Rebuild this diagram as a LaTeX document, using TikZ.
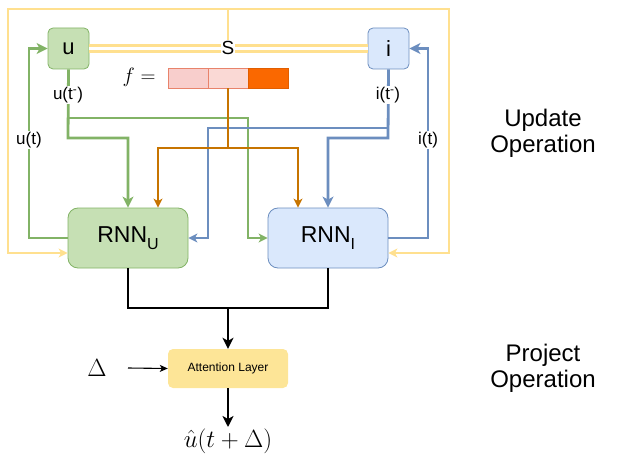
\documentclass[tikz,border=0pt]{standalone}
\usepackage{fontspec}
\setmainfont{Liberation Sans}
\usetikzlibrary{arrows.meta,calc}
\definecolor{gfill}{HTML}{C6E0B4}
\definecolor{gline}{HTML}{82B366}
\definecolor{bfill}{HTML}{DAE8FC}
\definecolor{bline}{HTML}{6C8EBF}
\definecolor{yline}{HTML}{FFE08F}
\definecolor{afill}{HTML}{FDE597}
\definecolor{oline}{HTML}{C77400}
\definecolor{pfilla}{HTML}{F8CECC}
\definecolor{pfillb}{HTML}{FAD9D5}
\definecolor{pline}{HTML}{E8836B}
\definecolor{ofill}{HTML}{FA6800}
\tikzset{
  tipbig/.style={-{Stealth[length=11pt,width=11pt,inset=3pt]}},
  tipsmall/.style={-{Stealth[length=9pt,width=9pt,inset=2.5pt]}},
  tipthin/.style={-{Stealth[length=8pt,width=7pt,inset=2pt]}},
  tipboth/.style={{Stealth[length=9pt,width=9pt,inset=2.5pt]}-{Stealth[length=9pt,width=9pt,inset=2.5pt]}},
  gnode/.style={draw=gline,fill=gfill,rounded corners=5pt,line width=0.8pt},
  bnode/.style={draw=bline,fill=bfill,rounded corners=5pt,line width=0.8pt},
  small/.style={minimum width=41pt,minimum height=41pt,inner sep=0pt,font=\fontsize{22}{22}\selectfont},
  rnn/.style={minimum width=120pt,minimum height=60pt,inner sep=0pt,rounded corners=10pt,font=\fontsize{23}{23}\selectfont},
  cell/.style={draw=pline,minimum width=40pt,minimum height=20pt,inner sep=0pt,line width=0.8pt},
  lbl/.style={fill=white,inner sep=1pt,font=\fontsize{17}{17}\selectfont},
  thickg/.style={draw=gline,line width=2.8pt},
  thickb/.style={draw=bline,line width=2.8pt},
  thing/.style={draw=gline,line width=1.8pt},
  thinb/.style={draw=bline,line width=1.8pt},
  oline/.style={draw=oline,line width=1.8pt},
  yl/.style={draw=yline,line width=2pt},
  bl/.style={draw=black,line width=2pt},
  big/.style={font=\fontsize{24}{24}\selectfont}
}
\newcommand{\subU}[1]{\raisebox{-0.3em}{\fontsize{16}{16}\selectfont #1}}
\begin{document}
\begin{tikzpicture}[x=1pt,y=-1pt]
\useasboundingbox (0,0) rectangle (618,476);
% nodes
\node[gnode,small] (u) at (68.5,48.5) {u};
\node[bnode,small] (i) at (388.5,48.5) {i};
\node[gnode,rnn] (ru) at (128,238) {RNN\subU{U}};
\node[bnode,rnn] (ri) at (328,238) {RNN\subU{I}};
\node[cell,fill=pfilla] (f1) at (188,78) {};
\node[cell,fill=pfillb] (f2) at (228,78) {};
\node[cell,fill=ofill,draw=ofill!90!black] (f3) at (268,78) {};
\node[font=\fontsize{22}{22}\selectfont] (feq) at (139,77) {$f=$};
\node[fill=afill,rounded corners=5pt,minimum width=120pt,minimum height=39pt,inner sep=0pt,font=\fontsize{12}{12}\selectfont] (att) at (228,368.5) {Attention Layer};
\node[font=\fontsize{23}{23}\selectfont] (delta) at (97,368) {$\Delta$};
\node[font=\fontsize{24}{24}\selectfont,anchor=north,inner sep=2pt] (out) at (228,427) {$\hat{u}(t+\Delta)$};
\node[big,align=center] (upd) at (543,133.5) {Update\\[2pt]Operation};
\node[big,align=center] (proj) at (543,368) {Project\\[2pt]Operation};
% coordinates
\coordinate (yl1) at (8,253);
\coordinate (yl2) at (8,9);
\coordinate (yl3) at (449,9);
\coordinate (yl4) at (449,253);
\coordinate (ytop) at (228,9);
\coordinate (ssp) at (228,48);
\coordinate (osplit) at (228,148);
\coordinate (bmid) at (228,308);
% yellow
\draw[yl,tipboth] ([yshift=-15pt]ru.west) -- (yl1) -- (yl2) -- (yl3) -- (yl4) -- ([yshift=-15pt]ri.east);
\draw[yl] (ytop) -- (ssp);
\draw[draw=yline,line width=2.2pt,double=white,double distance=3.8pt] (u.east) -- (i.west);
% green
\draw[thickg,tipbig] (u.south) -- (68,138) -- (128,138) -- (ru.north);
\draw[thing,tipsmall] (68,118) -- (248,118) -- (248,238) -- (ri.west);
\draw[thickg,tipbig] (ru.west) -- (29,238) -- (29,48.5) -- (u.west);
% blue
\draw[thickb,tipbig] (i.south) -- (388,138) -- (328,138) -- (ri.north);
\draw[thinb,tipsmall] (388,128) -- (208,128) -- (208,238) -- (ru.east);
\draw[thickb,tipbig] (ri.east) -- (428,238) -- (428,48.5) -- (i.east);
% orange
\draw[oline] (f2.south) -- (osplit);
\draw[oline,tipsmall] (osplit) -- (158,148) -- ([xshift=30pt]ru.north);
\draw[oline,tipsmall] (osplit) -- (298,148) -- ([xshift=-30pt]ri.north);
% black
\draw[bl] (ru.south) -- (128,308) -- (328,308) -- (ri.south);
\draw[bl,tipbig] (bmid) -- (att.north);
\draw[bl,tipbig] (att.south) -- (out.north);
\draw[draw=black,line width=1.1pt,tipthin] (128,368) -- (att.west);
% labels
\node[lbl,font=\fontsize{19}{19}\selectfont] (s) at (ssp) {S};
\node[lbl] (ut1) at (68,95) {u(t\textsuperscript{-})};
\node[lbl] (it1) at (388,95) {i(t\textsuperscript{-})};
\node[lbl] (ut) at (29,140) {u(t)};
\node[lbl] (it) at (428,140) {i(t)};
\end{tikzpicture}
\end{document}
